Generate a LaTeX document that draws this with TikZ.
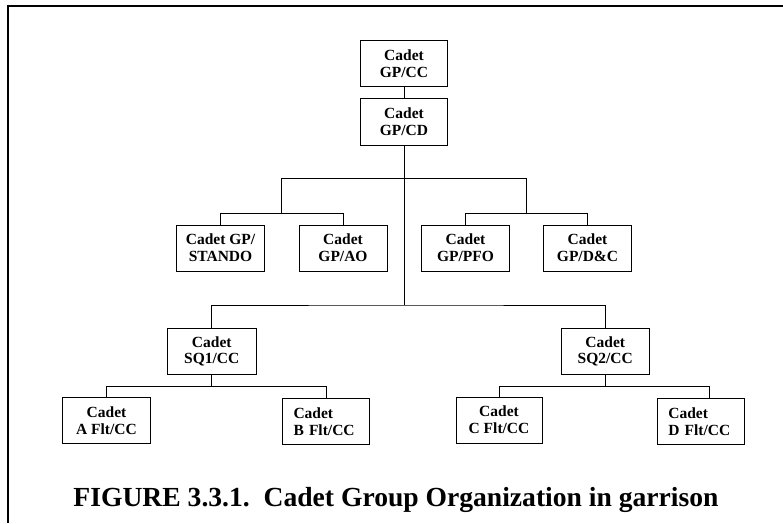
\documentclass[tikz,border=0pt]{standalone}
\usepackage{fontspec}
\setmainfont{Liberation Serif}
\begin{document}
\begin{tikzpicture}[x=1pt,y=-1pt,
  orgbox/.style={draw, line width=1pt, inner sep=2pt, minimum height=46pt, align=center,
    font=\fontsize{15.5}{16.7}\selectfont\bfseries},
  leftbox/.style={orgbox, align=left, inner xsep=11pt, text width=#1},
  conn/.style={line width=0.9pt},
  frame/.style={line width=2.3pt}]
\useasboundingbox (0,0) rectangle (783,523);
\draw[frame] (7.8,523) -- (7.8,6.2) -- (783,6.2);

\node[orgbox, minimum width=87pt] (cc) at (404,63.7) {Cadet\\GP/CC};
\node[orgbox, minimum width=87pt, minimum height=46.7pt] (cd) at (404,121.7) {Cadet\\GP/CD};

\node[orgbox, minimum width=88pt] (stando) at (220.5,248) {Cadet GP/\\STANDO};
\node[orgbox, minimum width=88pt] (ao) at (343,248) {Cadet\\GP/AO};
\node[orgbox, minimum width=88pt] (pfo) at (465.5,248) {Cadet\\GP/PFO};
\node[orgbox, minimum width=88pt] (dc) at (587.5,248) {Cadet\\GP/D\&C};

\node[orgbox, minimum width=88.5pt] (sq1) at (211.75,351.3) {Cadet\\SQ1/CC};
\node[orgbox, minimum width=88.5pt] (sq2) at (605.25,351.3) {Cadet\\SQ2/CC};

\node[orgbox, minimum width=88pt] (fa) at (106.5,420.7) {Cadet\\A Flt/CC};
\node[leftbox=65pt] (fb) at (326,421.5) {Cadet\\B Flt/CC};
\node[orgbox, minimum width=86pt] (fc) at (499,420) {Cadet\\C Flt/CC};
\node[leftbox=64.7pt] (fd) at (700.7,421.5) {Cadet\\D Flt/CC};

\coordinate (hl) at (281.75,178.3);
\coordinate (hr) at (526.5,178.3);
\coordinate (gl) at (281.75,213.3);
\coordinate (gr) at (526.5,213.3);
\coordinate (mid) at (404,305);
\coordinate (sl) at (211.75,386);
\coordinate (sr) at (605.25,386);
\coordinate (fdtop) at (709.3,398.3);

\draw[conn] (cc) -- (cd);
\draw[conn] (cd.south) -- (mid);
\draw[conn] (hl) -- (hr);
\draw[conn] (hl) -- (gl);
\draw[conn] (hr) -- (gr);
\draw[conn] (stando.north) |- (gl) -| (ao.north);
\draw[conn] (pfo.north) |- (gr) -| (dc.north);
\draw[conn] (sq1.north) |- (mid) -| (sq2.north);
\draw[conn] (sq1.south) -- (sl);
\draw[conn] (sq2.south) -- (sr);
\draw[conn] (fa.north) |- (sl) -| (fb.north);
\draw[conn] (fc.north) |- (sr) -| (fdtop);

\node[anchor=base, font=\fontsize{27.6}{30}\selectfont\bfseries] (cap) at (396,506)
  {FIGURE 3.3.1.\ \ Cadet Group Organization in garrison};
\end{tikzpicture}
\end{document}
